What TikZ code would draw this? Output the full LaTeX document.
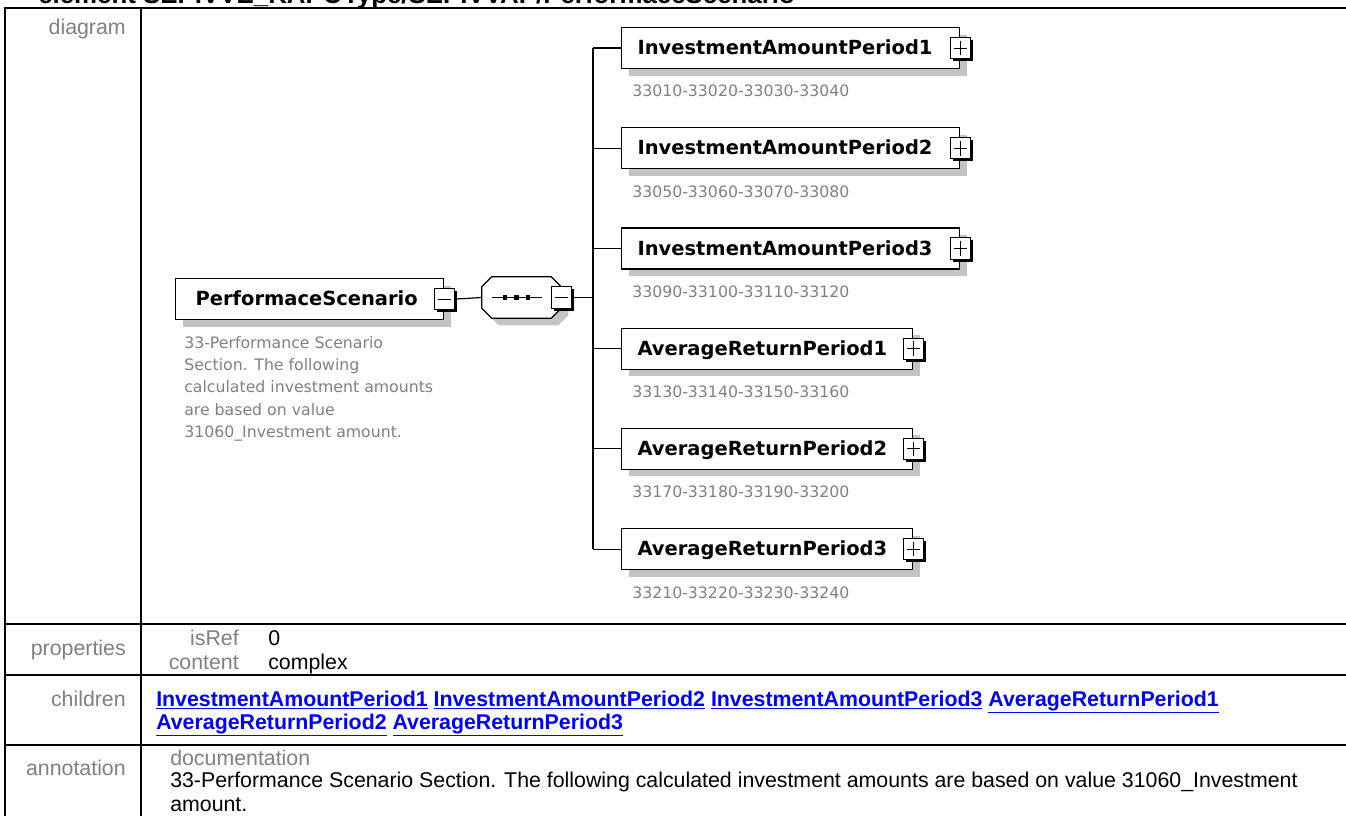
\documentclass[tikz,border=0pt]{standalone}
\usepackage{fontspec}
\setmainfont{Liberation Sans}
\newfontfamily\dv{DejaVu Sans}
\usetikzlibrary{shadows}
\definecolor{lblgray}{RGB}{128,128,128}
\definecolor{shadowgray}{RGB}{195,195,195}
\definecolor{linkblue}{RGB}{0,0,255}
\begin{document}
\begin{tikzpicture}[x=0.75pt,y=-0.75pt,
  elbox/.style={draw=black, line width=0.9pt, fill=white, anchor=north west,
    minimum height=30.75pt, inner ysep=0pt, align=left, text height=12.8pt, text depth=3pt,
    font=\dv\bfseries\fontsize{14.6}{17}\selectfont,
    drop shadow={shadow xshift=5.25pt, shadow yshift=-5.25pt, fill=shadowgray, opacity=1}},
  invbox/.style={elbox, text width=229.5pt, inner xsep=12pt},
  avgbox/.style={elbox, text width=194.25pt, inner xsep=12pt},
  mainbox/.style={elbox, text width=171pt, inner xsep=15pt},
  expbox/.style={draw=black, line width=0.75pt, fill=white, minimum width=15pt, minimum height=16pt,
    inner sep=0pt, drop shadow={shadow xshift=1.9pt, shadow yshift=-1.9pt, fill=black, opacity=1}},
  expminus/.style={expbox, path picture={\draw[line width=0.75pt] ([xshift=-5pt]path picture bounding box.center) -- ([xshift=5pt]path picture bounding box.center);}},
  expplus/.style={expbox, path picture={\draw[line width=0.75pt] ([xshift=-5pt]path picture bounding box.center) -- ([xshift=5pt]path picture bounding box.center);
      \draw[line width=0.75pt] ([yshift=-5.5pt]path picture bounding box.center) -- ([yshift=5.5pt]path picture bounding box.center);}},
  seqbox/.style={rectangle, draw=none, minimum width=59.25pt, minimum height=30.75pt, inner sep=0pt},
  conn/.style={draw=black, line width=0.9pt},
  num/.style={anchor=base west, inner sep=0pt, text=lblgray, font=\dv\fontsize{11.8}{16.7}\selectfont},
  desc/.style={anchor=north west, inner sep=0pt, text=lblgray, align=left, font=\dv\fontsize{11.8}{16.7}\selectfont},
  tbl/.style={draw=black, line width=1.2pt},
  rowlbl/.style={anchor=base east, inner sep=0pt, text=lblgray, font=\fontsize{16}{19}\selectfont},
  tval/.style={anchor=base west, inner sep=0pt, font=\fontsize{16}{19}\selectfont},
  tlink/.style={anchor=base west, inner sep=0pt, align=left, text=linkblue, font=\bfseries\fontsize{16}{17.25}\selectfont},
  tdoc/.style={anchor=base west, inner sep=0pt, align=left, font=\fontsize{16}{18}\selectfont}
]
\useasboundingbox (0,0) rectangle (1346,816);
\clip (0,0) rectangle (1346,816);

% title (cut off at top)
\node[anchor=base west, inner sep=0pt, font=\bfseries\fontsize{19.4}{22}\selectfont] (title) at (38,4) {element SEPIVVE\_KAPOType/SEPIVVAP/PerformaceScenario};

% table frame
\draw[tbl] (5,816) -- (5,8) -- (1346,8);
\draw[tbl] (141,8) -- (141,816);
\draw[tbl] (5,624) -- (1346,624);
\draw[tbl] (5,675) -- (1346,675);
\draw[tbl] (5,745) -- (1346,745);

% row labels
\node[rowlbl] (ldiag) at (126,35) {diagram};
\node[rowlbl] (lprop) at (126,655) {properties};
\node[rowlbl] (lchild) at (126,706) {children};
\node[rowlbl] (lannot) at (126,775) {annotation};

% properties
\node[rowlbl] (kisref) at (239,645) {isRef};
\node[tval] (visref) at (268,645) {0};
\node[rowlbl] (kcont) at (239,669) {content};
\node[tval] (vcont) at (268,669) {complex};

% children
\node[tlink] (links) at (156,729) {\underline{InvestmentAmountPeriod1} \underline{InvestmentAmountPeriod2} \underline{InvestmentAmountPeriod3} \underline{AverageReturnPeriod1}\\\underline{AverageReturnPeriod2} \underline{AverageReturnPeriod3}};

% annotation
\node[rowlbl, anchor=base west] (docl) at (170,765) {documentation};
\node[tdoc] (doct) at (170,811) {33-Performance Scenario Section. The following calculated investment amounts are based on value 31060\_Investment\\amount.};

% ---- diagram ----
\node[mainbox] (main) at (175,278) {PerformaceScenario};
\node[expminus] (e0) at (main.east) {};
\node[desc] (d0) at (184,336) {33-Performance Scenario\\Section. The following\\calculated investment amounts\\are based on value\\31060\_Investment amount.};

% sequence compositor (octagon)
\node[seqbox] (seq) at (521.5,297.5) {};
\fill[shadowgray]
  ([shift={(5.25pt,2.25pt)}]seq.south west) -- ([shift={(5.25pt,-12.75pt)}]seq.north west)
  -- ([shift={(12.75pt,-5.25pt)}]seq.north west) -- ([shift={(-2.25pt,-5.25pt)}]seq.north east)
  -- ([shift={(5.25pt,-12.75pt)}]seq.north east) -- ([shift={(5.25pt,2.25pt)}]seq.south east)
  -- ([shift={(-2.25pt,-5.25pt)}]seq.south east) -- ([shift={(12.75pt,-5.25pt)}]seq.south west) -- cycle;
\draw[line width=0.9pt, fill=white]
  ([yshift=7.5pt]seq.south west) -- ([yshift=-7.5pt]seq.north west) -- ([xshift=7.5pt]seq.north west)
  -- ([xshift=-7.5pt]seq.north east) -- ([yshift=-7.5pt]seq.north east) -- ([yshift=7.5pt]seq.south east)
  -- ([xshift=-7.5pt]seq.south east) -- ([xshift=7.5pt]seq.south west) -- cycle;
\node[expminus] (es) at (seq.east) {};
\draw[line width=0.9pt] ([xshift=-22.1pt]seq.center) -- ([xshift=15.4pt]seq.center);
\fill ([xshift=-12.4pt]seq.center) +(-1.7pt,-1.7pt) rectangle +(1.7pt,1.7pt);
\fill ([xshift=-3.75pt]seq.center) +(-1.7pt,-1.7pt) rectangle +(1.7pt,1.7pt);
\fill ([xshift=4.9pt]seq.center) +(-1.7pt,-1.7pt) rectangle +(1.7pt,1.7pt);

\draw[conn] (e0.east) -- (seq.west);
\coordinate (tr) at (593,297.5);
\draw[conn] (es.east) -- (tr);

% children boxes
\node[invbox] (c1) at (621,27) {InvestmentAmountPeriod1};
\node[invbox] (c2) at (621,127.2) {InvestmentAmountPeriod2};
\node[invbox] (c3) at (621,227.4) {InvestmentAmountPeriod3};
\node[avgbox] (c4) at (621,327.6) {AverageReturnPeriod1};
\node[avgbox] (c5) at (621,427.8) {AverageReturnPeriod2};
\node[avgbox] (c6) at (621,528) {AverageReturnPeriod3};
\foreach \i in {1,...,6} {\node[expplus] (e\i) at (c\i.east) {};}

\node[num] (n1) at (632,97) {33010-33020-33030-33040};
\node[num] (n2) at (632,197.2) {33050-33060-33070-33080};
\node[num] (n3) at (632,297.4) {33090-33100-33110-33120};
\node[num] (n4) at (632,397.6) {33130-33140-33150-33160};
\node[num] (n5) at (632,497.8) {33170-33180-33190-33200};
\node[num] (n6) at (632,598) {33210-33220-33230-33240};

% trunk and branches
\foreach \i in {1,...,6} {\coordinate (t\i) at (tr |- c\i.west);}
\draw[conn] (t1) -- (t6);
\foreach \i in {1,...,6} {\draw[conn] (t\i) -- (c\i.west);}
\end{tikzpicture}
\end{document}
